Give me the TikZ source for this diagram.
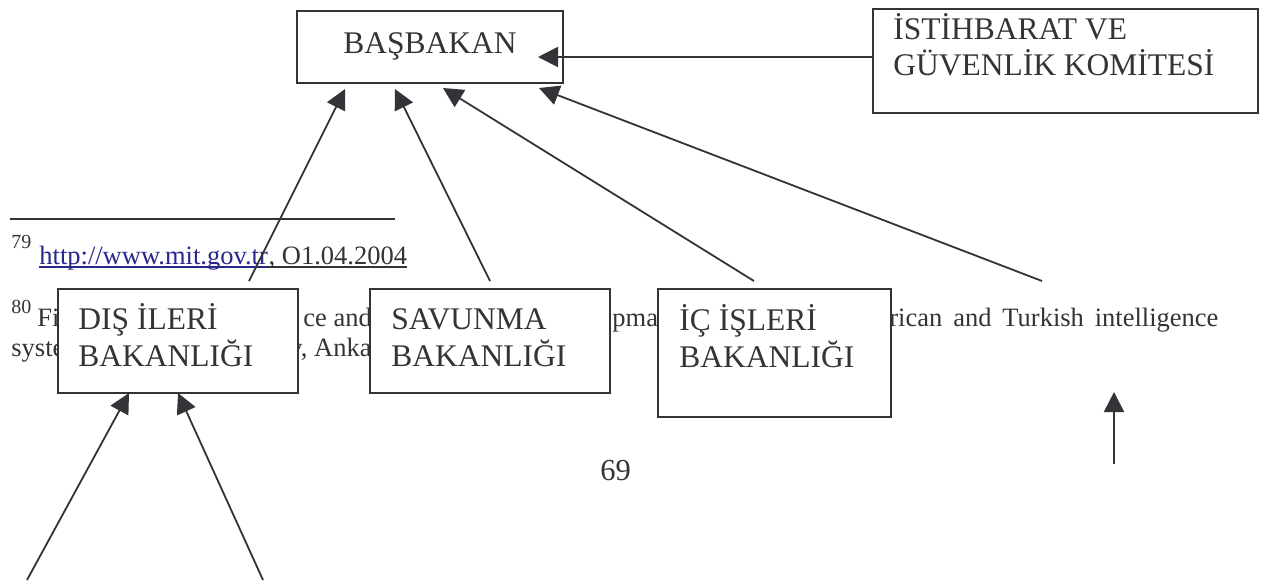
\documentclass[tikz,border=0pt]{standalone}
\usepackage{fontspec}
\setmainfont{Liberation Serif}
\usetikzlibrary{arrows.meta,calc}
\definecolor{ink}{RGB}{52,52,56}
\definecolor{link}{RGB}{40,40,140}
% two lines of a label, first baseline is the box baseline
\newcommand\linepair[3]{\vtop{\baselineskip=#1\lineskiplimit=-50pt\hbox{#2}\hbox{#3}}}
\begin{document}
\begin{tikzpicture}[x=0.5pt,y=-0.5pt,
  box/.style={draw=ink,line width=0.9pt,fill=white,rectangle,inner sep=0pt},
  lbl/.style={anchor=base west,inner sep=0pt,text=ink,font=\fontsize{15.75}{18}\selectfont},
  fn/.style={anchor=base west,inner sep=0pt,text=ink,font=\fontsize{13.25}{15}\selectfont},
  sup/.style={anchor=base west,inner sep=0pt,text=ink,font=\fontsize{10}{12}\selectfont},
  arr/.style={draw=ink,line width=0.9pt,-{Triangle[length=10pt,width=10pt]}}]
\fill[white] (0,0) rectangle (1262,580);
\useasboundingbox (0,0) rectangle (1262,580);

% footnote area (partly hidden by the boxes)
\draw[ink,line width=0.85pt] (10,219) coordinate (r0) -- (395,219) coordinate (r1);
\node[sup] (n79) at (11,248) {79};
\node[fn,text=link] (url) at (39,264) {http://www.mit.gov.tr};
\node[fn] (date) at (url.base east) {, O1.04.2004};
\draw[link,line width=0.6pt] ($(url.base west)+(0,3)$) -- ($(url.base east)+(0,3)$);
\draw[ink,line width=0.6pt] ($(date.base west)+(0,3)$) -- ($(date.base east)+(0,3)$);
\node[sup] (n80) at (11,313) {80};
\node[fn] (f1) at (37,326.5) {Fi};
\node[fn] (f2) at (303,326.5) {ce and};
\node[fn] (f3) at (612,326.5) {pmar};
\node[fn] (f4) at (889,326.5) {\makebox[164.5pt][s]{rican and Turkish intelligence}};
\node[fn] (g1) at (11,356) {syste};
\node[fn] (g2) at (289,356) {y, Anka};
\node[anchor=base west,inner sep=0pt,text=ink,font=\fontsize{15.25}{18}\selectfont] (page) at (600,480) {69};

% boxes
\node[box,minimum width=133pt,minimum height=36pt] (pm) at (430,47) {};
\node[box,minimum width=192.5pt,minimum height=52pt] (igk) at (1065.5,61) {};
\node[box,minimum width=120pt,minimum height=52pt] (dis) at (178,341) {};
\node[box,minimum width=120pt,minimum height=52pt] (sav) at (490,341) {};
\node[box,minimum width=116.5pt,minimum height=64pt] (ic) at (774.5,353) {};

% labels
\node[lbl,anchor=base] (pmt) at (430,53) {BAŞBAKAN};
\node[lbl] (igkt) at (893,39.5) {\linepair{17.85pt}{İSTİHBARAT VE}{GÜVENLİK KOMİTESİ}};
\node[lbl] (dist) at (78,329.5) {\linepair{18.5pt}{DIŞ İLERİ}{BAKANLIĞI}};
\node[lbl] (savt) at (391,329.5) {\linepair{18.5pt}{SAVUNMA}{BAKANLIĞI}};
\node[lbl] (ict) at (679,330) {\linepair{18.5pt}{İÇ İŞLERİ}{BAKANLIĞI}};

% connector end points
\coordinate (igkL) at (873,57);
\coordinate (pmR) at (538,57);
\coordinate (pm1) at (345,89);
\coordinate (pm2) at (395,89);
\coordinate (pm3) at (443,88);
\coordinate (pm4) at (539,88);
\coordinate (disT) at (249,281);
\coordinate (savT) at (490,281);
\coordinate (icT) at (754,281);
\coordinate (ext) at (1042,281);
\coordinate (disB1) at (129,393);
\coordinate (disB2) at (178,393);
\coordinate (low1) at (27,580);
\coordinate (low2) at (263,580);
\coordinate (up0) at (1114,464);
\coordinate (up1) at (1114,392);

% connectors
\draw[arr] (igkL) -- (pmR);
\draw[arr] (disT) -- (pm1);
\draw[arr] (savT) -- (pm2);
\draw[arr] (icT) -- (pm3);
\draw[arr] (ext) -- (pm4);
\draw[arr] (low1) -- (disB1);
\draw[arr] (low2) -- (disB2);
\draw[arr] (up0) -- (up1);
\end{tikzpicture}
\end{document}
